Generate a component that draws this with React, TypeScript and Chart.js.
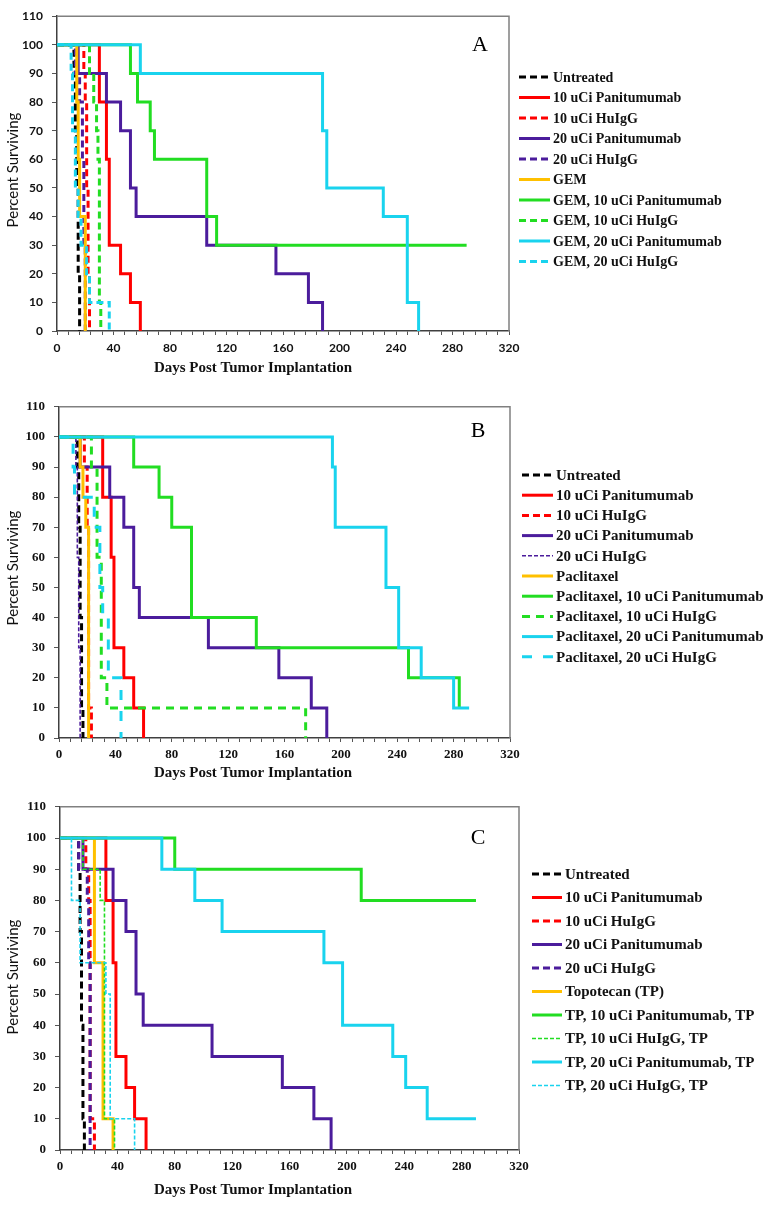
import React, { useEffect, useRef } from 'react';
import { Chart, registerables } from 'chart.js';

Chart.register(...registerables);

type Pt = [number, number];

// ---------- Panel A (GEM) : [day, percent surviving] ----------
const A_UNTREATED: Pt[] = [[0, 100], [12, 90], [13, 70], [14, 50], [15, 20], [16, 0]];
const A_PAN10: Pt[] = [[0, 100], [30, 80], [35, 60], [37, 30], [45, 20], [52, 10], [59, 0]];
const A_IGG10: Pt[] = [[0, 100], [19, 90], [20, 80], [21, 50], [22, 20], [23, 0]];
const A_PAN20: Pt[] = [[0, 100], [15, 90], [35, 80], [45, 70], [52, 50], [56, 40], [106, 30], [155, 20], [178, 10], [188, 0]];
const A_IGG20: Pt[] = [[0, 100], [13, 90], [16, 80], [18, 60], [19, 30], [20, 0]];
const A_DRUG: Pt[] = [[0, 100], [14, 80], [15, 60], [16, 40], [20, 0]];
const A_DRUG_PAN10: Pt[] = [[0, 100], [52, 90], [57, 80], [66, 70], [69, 60], [106, 40], [113, 30], [290, 30]];
const A_DRUG_IGG10: Pt[] = [[0, 100], [23, 90], [26, 80], [28, 70], [29, 60], [30, 10], [31, 0]];
const A_DRUG_PAN20: Pt[] = [[0, 100], [59, 90], [188, 70], [191, 50], [231, 40], [248, 10], [256, 0]];
const A_DRUG_IGG20: Pt[] = [[0, 100], [10, 90], [11, 70], [13, 50], [15, 40], [17, 30], [21, 20], [23, 10], [37, 0]];
const A_LABELS = ['Untreated', '10 uCi Panitumumab', '10 uCi HuIgG', '20 uCi Panitumumab', '20 uCi HuIgG', 'GEM',
  'GEM, 10 uCi Panitumumab', 'GEM, 10 uCi HuIgG', 'GEM, 20 uCi Panitumumab', 'GEM, 20 uCi HuIgG'];

// ---------- Panel B (Paclitaxel) ----------
const B_UNTREATED: Pt[] = [[0, 100], [13, 90], [14, 70], [15, 40], [16, 10], [17, 0]];
const B_PAN10: Pt[] = [[0, 100], [31, 80], [37, 60], [39, 30], [46, 20], [53, 10], [60, 0]];
const B_IGG10: Pt[] = [[0, 100], [18, 90], [20, 70], [21, 10], [23, 0]];
const B_PAN20: Pt[] = [[0, 100], [15, 90], [36, 80], [46, 70], [53, 50], [57, 40], [106, 30], [156, 20], [179, 10], [190, 0]];
const B_IGG20: Pt[] = [[0, 100], [12, 90], [13, 60], [14, 30], [15, 0]];
const B_DRUG: Pt[] = [[0, 100], [15, 90], [17, 80], [19, 70], [21, 0]];
const B_DRUG_PAN10: Pt[] = [[0, 100], [53, 90], [71, 80], [80, 70], [94, 40], [140, 30], [248, 20], [284, 10]];
const B_DRUG_IGG10: Pt[] = [[0, 100], [23, 90], [27, 60], [30, 20], [34, 10], [175, 0]];
const B_DRUG_PAN20: Pt[] = [[0, 100], [194, 90], [196, 70], [232, 50], [241, 30], [257, 20], [280, 10], [291, 10]];
const B_DRUG_IGG20: Pt[] = [[0, 100], [10, 90], [11, 80], [25, 70], [29, 50], [31, 40], [35, 20], [44, 0]];
const B_LABELS = ['Untreated', '10 uCi Panitumumab', '10 uCi HuIgG', '20 uCi Panitumumab', '20 uCi HuIgG', 'Paclitaxel',
  'Paclitaxel, 10 uCi Panitumumab', 'Paclitaxel, 10 uCi HuIgG', 'Paclitaxel, 20 uCi Panitumumab', 'Paclitaxel, 20 uCi HuIgG'];

// ---------- Panel C (Topotecan) ----------
const C_UNTREATED: Pt[] = [[0, 100], [13, 90], [14, 70], [15, 40], [16, 10], [17, 0]];
const C_PAN10: Pt[] = [[0, 100], [32, 80], [37, 60], [39, 30], [46, 20], [52, 10], [60, 0]];
const C_IGG10: Pt[] = [[0, 100], [18, 90], [20, 80], [21, 10], [24, 0]];
const C_PAN20: Pt[] = [[0, 100], [16, 90], [37, 80], [46, 70], [53, 50], [58, 40], [106, 30], [155, 20], [177, 10], [189, 0]];
const C_IGG20: Pt[] = [[0, 100], [13, 90], [19, 80], [20, 60], [21, 0]];
const C_DRUG: Pt[] = [[0, 100], [24, 60], [30, 10], [37, 0]];
const C_DRUG_PAN10: Pt[] = [[0, 100], [80, 90], [210, 80], [290, 80]];
const C_DRUG_IGG10: Pt[] = [[0, 100], [16, 90], [28, 80], [31, 10], [38, 0]];
const C_DRUG_PAN20: Pt[] = [[0, 100], [71, 90], [94, 80], [113, 70], [184, 60], [197, 40], [232, 30], [241, 20], [256, 10], [290, 10]];
const C_DRUG_IGG20: Pt[] = [[0, 100], [8, 80], [14, 60], [32, 50], [35, 10], [52, 0]];
const C_LABELS = ['Untreated', '10 uCi Panitumumab', '10 uCi HuIgG', '20 uCi Panitumumab', '20 uCi HuIgG', 'Topotecan (TP)',
  'TP, 10 uCi Panitumumab, TP', 'TP, 10 uCi HuIgG, TP', 'TP, 20 uCi Panitumumab, TP', 'TP, 20 uCi HuIgG, TP'];

// axis ticks
const X_MIN = 0;
const X_MAX = 320;
const X_MINOR_STEP = 8;
const X_LABEL_STEP = 40;
const Y_MIN = 0;
const Y_MAX = 110;
const Y_STEP = 10;

// ---------- styles ----------
const BLACK = '#000000';
const RED = '#ff0000';
const PURPLE = '#4b1c9c';
const ORANGE = '#ffc000';
const GREEN = '#22dd22';
const CYAN = '#19d3ee';

type Style = { color: string; width: number; dash: number[] };
const SOLID = (c: string): Style => ({ color: c, width: 3, dash: [] });
const DASH = (c: string): Style => ({ color: c, width: 3, dash: [7, 4] });
const THIN = (c: string): Style => ({ color: c, width: 1.6, dash: [4, 2] });
const LONG = (c: string): Style => ({ color: c, width: 3, dash: [10, 11] });

const A_STYLES: Style[] = [DASH(BLACK), SOLID(RED), DASH(RED), SOLID(PURPLE), DASH(PURPLE), SOLID(ORANGE), SOLID(GREEN), DASH(GREEN), SOLID(CYAN), DASH(CYAN)];
const B_STYLES: Style[] = [DASH(BLACK), SOLID(RED), DASH(RED), SOLID(PURPLE), THIN(PURPLE), SOLID(ORANGE), SOLID(GREEN), { color: GREEN, width: 3, dash: [8, 6] }, SOLID(CYAN), LONG(CYAN)];
const C_STYLES: Style[] = [DASH(BLACK), SOLID(RED), DASH(RED), SOLID(PURPLE), DASH(PURPLE), SOLID(ORANGE), SOLID(GREEN), THIN(GREEN), SOLID(CYAN), THIN(CYAN)];

const SERIF = '"Liberation Serif", "Times New Roman", serif';
const SANS = 'Lato, "Open Sans", sans-serif';

type Panel = {
  letter: string;
  top: number;
  height: number;
  area: { left: number; right: number; top: number; bottom: number };
  series: Pt[][];
  labels: string[];
  styles: Style[];
  legend: { x1: number; x2: number; tx: number; y0: number; dy: number; font: string };
  letterPos: { x: number; y: number };
  xTitle: { x: number; y: number };
  yTitle: { x: number; y: number };
  tickFont: { family: string; size: number; weight: string };
  tickPadX: number;
  tickPadY: number;
};

const PANELS: Panel[] = [
  {
    letter: 'A', top: 0, height: 390,
    area: { left: 57, right: 509, top: 8, bottom: 331 },
    series: [A_UNTREATED, A_PAN10, A_IGG10, A_PAN20, A_IGG20, A_DRUG, A_DRUG_PAN10, A_DRUG_IGG10, A_DRUG_PAN20, A_DRUG_IGG20],
    labels: A_LABELS, styles: A_STYLES,
    legend: { x1: 519, x2: 550, tx: 553, y0: 77, dy: 20.5, font: `bold 14px ${SERIF}` },
    letterPos: { x: 480, y: 45 },
    xTitle: { x: 253, y: 368 },
    yTitle: { x: 13, y: 170 },
    tickFont: { family: SANS, size: 12, weight: 'bold' },
    tickPadX: 6, tickPadY: 9,
  },
  {
    letter: 'B', top: 390, height: 400,
    area: { left: 59, right: 510, top: 399, bottom: 738 },
    series: [B_UNTREATED, B_PAN10, B_IGG10, B_PAN20, B_IGG20, B_DRUG, B_DRUG_PAN10, B_DRUG_IGG10, B_DRUG_PAN20, B_DRUG_IGG20],
    labels: B_LABELS, styles: B_STYLES,
    legend: { x1: 522, x2: 553, tx: 556, y0: 475, dy: 20.2, font: `bold 15px ${SERIF}` },
    letterPos: { x: 478, y: 431 },
    xTitle: { x: 253, y: 773 },
    yTitle: { x: 13, y: 568 },
    tickFont: { family: SERIF, size: 13, weight: 'bold' },
    tickPadX: 5, tickPadY: 9,
  },
  {
    letter: 'C', top: 790, height: 417,
    area: { left: 60, right: 519, top: 804, bottom: 1150 },
    series: [C_UNTREATED, C_PAN10, C_IGG10, C_PAN20, C_IGG20, C_DRUG, C_DRUG_PAN10, C_DRUG_IGG10, C_DRUG_PAN20, C_DRUG_IGG20],
    labels: C_LABELS, styles: C_STYLES,
    legend: { x1: 532, x2: 562, tx: 565, y0: 874, dy: 23.5, font: `bold 15px ${SERIF}` },
    letterPos: { x: 478, y: 838 },
    xTitle: { x: 253, y: 1190 },
    yTitle: { x: 13, y: 977 },
    tickFont: { family: SERIF, size: 13, weight: 'bold' },
    tickPadX: 5, tickPadY: 9,
  },
];

const W = 770;

function makeDecor(p: Panel) {
  return {
    id: 'decor' + p.letter,
    afterDraw(chart: any) {
      const ctx: CanvasRenderingContext2D = chart.ctx;
      const a = chart.chartArea;
      const off = p.top;
      ctx.save();
      // plot frame (top + right)
      ctx.strokeStyle = '#808080';
      ctx.lineWidth = 1.5;
      ctx.beginPath();
      ctx.moveTo(a.left, a.top);
      ctx.lineTo(a.right, a.top);
      ctx.lineTo(a.right, a.bottom);
      ctx.stroke();
      // panel letter
      ctx.fillStyle = '#000';
      ctx.font = `22px ${SERIF}`;
      ctx.textAlign = 'center';
      ctx.textBaseline = 'middle';
      ctx.fillText(p.letter, p.letterPos.x, p.letterPos.y - off);
      // legend
      ctx.font = p.legend.font;
      ctx.textAlign = 'left';
      p.labels.forEach((lab, i) => {
        const st = p.styles[i];
        const y = p.legend.y0 + i * p.legend.dy - off;
        ctx.strokeStyle = st.color;
        ctx.lineWidth = st.width;
        ctx.setLineDash(st.dash);
        ctx.beginPath();
        ctx.moveTo(p.legend.x1, y);
        ctx.lineTo(p.legend.x2, y);
        ctx.stroke();
        ctx.setLineDash([]);
        ctx.fillStyle = '#111';
        ctx.fillText(lab, p.legend.tx, y + 1);
      });
      // x title
      ctx.font = `bold 15px ${SERIF}`;
      ctx.textAlign = 'center';
      ctx.fillStyle = '#111';
      ctx.fillText('Days Post Tumor Implantation', p.xTitle.x, p.xTitle.y - off);
      // y title
      ctx.translate(p.yTitle.x, p.yTitle.y - off);
      ctx.rotate(-Math.PI / 2);
      ctx.font = `15px ${SANS}`;
      ctx.fillText('Percent Surviving', 0, 0);
      ctx.restore();
    },
  };
}

function PanelChart({ p }: { p: Panel }) {
  const ref = useRef<HTMLCanvasElement>(null);
  useEffect(() => {
    if (!ref.current) return;
    const off = p.top;
    const area = p.area;
    const datasets = p.series.map((pts, i) => ({
      label: p.labels[i],
      data: pts.map(([x, y]) => ({ x, y })),
      borderColor: p.styles[i].color,
      borderWidth: p.styles[i].width,
      borderDash: p.styles[i].dash,
      stepped: 'before' as const,
      pointRadius: 0,
      fill: false,
      order: p.series.length - i,
    }));
    const chart = new Chart(ref.current, {
      type: 'line',
      data: { datasets },
      options: {
        responsive: false,
        animation: false,
        events: [],
        layout: { padding: { left: 0, top: area.top - off, right: W - area.right, bottom: 0 } },
        plugins: { legend: { display: false }, tooltip: { enabled: false } },
        scales: {
          x: {
            type: 'linear',
            min: X_MIN,
            max: X_MAX,
            afterFit: (s: any) => { s.height = p.height - (area.bottom - off); },
            ticks: {
              stepSize: X_MINOR_STEP,
              autoSkip: false,
              maxRotation: 0,
              color: '#111',
              font: p.tickFont as any,
              padding: p.tickPadX,
              callback: (v: any) => (Number(v) % X_LABEL_STEP === 0 ? String(v) : ''),
            },
            grid: { drawOnChartArea: false, drawTicks: true, tickLength: 4, color: '#555', lineWidth: 1 },
            border: { color: '#404040', width: 1.5 },
          },
          y: {
            type: 'linear',
            min: Y_MIN,
            max: Y_MAX,
            afterFit: (s: any) => { s.width = area.left; },
            ticks: { stepSize: Y_STEP, color: '#111', font: p.tickFont as any, padding: p.tickPadY },
            grid: { drawOnChartArea: false, drawTicks: true, tickLength: 5, color: '#555', lineWidth: 1 },
            border: { color: '#404040', width: 1.5 },
          },
        },
      },
      plugins: [makeDecor(p)],
    } as any);
    return () => chart.destroy();
  }, [p]);
  return (
    <canvas
      ref={ref}
      width={W}
      height={p.height}
      style={{ position: 'absolute', left: 0, top: p.top, width: W, height: p.height }}
    />
  );
}

export default function App() {
  return (
    <div style={{ position: 'absolute', left: 0, top: 0, width: W, height: 1207, background: '#fff', overflow: 'hidden' }}>
      {PANELS.map((p) => (
        <PanelChart key={p.letter} p={p} />
      ))}
    </div>
  );
}
